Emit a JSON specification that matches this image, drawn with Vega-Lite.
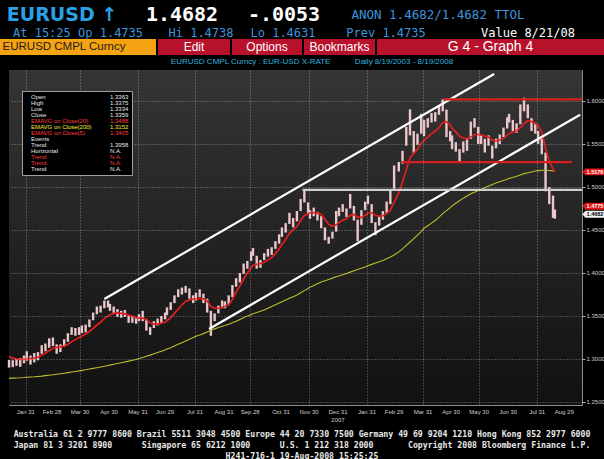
{
"$schema": "https://vega.github.io/schema/vega-lite/v6.json",
"background": "#000000",
"padding": 0,
"spacing": 0,
"config": {"view": {"stroke": null}, "concat": {"spacing": 0}},
"resolve": {"scale": {"color": "independent", "fill": "independent", "stroke": "independent", "strokeWidth": "independent"}, "legend": {"color": "independent"}},
"datasets": {
"px": [
{"d":"2007-01-13","h":1.2990,"l":1.2900,"e20":1.3030,"e200":1.2775},
{"d":"2007-01-17","h":1.2985,"l":1.2905,"e20":1.3010,"e200":1.2777},
{"d":"2007-01-21","h":1.3000,"l":1.2920,"e20":1.3000,"e200":1.2779},
{"d":"2007-01-25","h":1.3010,"l":1.2910,"e20":1.2995,"e200":1.2781},
{"d":"2007-01-29","h":1.3040,"l":1.2950,"e20":1.2995,"e200":1.2784},
{"d":"2007-02-01","h":1.3090,"l":1.2980,"e20":1.3000,"e200":1.2787},
{"d":"2007-02-05","h":1.3040,"l":1.2935,"e20":1.3005,"e200":1.2790},
{"d":"2007-02-09","h":1.3070,"l":1.2960,"e20":1.3010,"e200":1.2793},
{"d":"2007-02-13","h":1.3080,"l":1.2985,"e20":1.3020,"e200":1.2797},
{"d":"2007-02-17","h":1.3160,"l":1.3060,"e20":1.3045,"e200":1.2801},
{"d":"2007-02-21","h":1.3180,"l":1.3090,"e20":1.3070,"e200":1.2806},
{"d":"2007-02-25","h":1.3240,"l":1.3130,"e20":1.3095,"e200":1.2811},
{"d":"2007-03-01","h":1.3250,"l":1.3150,"e20":1.3125,"e200":1.2816},
{"d":"2007-03-05","h":1.3170,"l":1.3060,"e20":1.3135,"e200":1.2822},
{"d":"2007-03-09","h":1.3170,"l":1.3080,"e20":1.3140,"e200":1.2828},
{"d":"2007-03-13","h":1.3230,"l":1.3140,"e20":1.3150,"e200":1.2834},
{"d":"2007-03-17","h":1.3300,"l":1.3200,"e20":1.3170,"e200":1.2841},
{"d":"2007-03-21","h":1.3370,"l":1.3280,"e20":1.3200,"e200":1.2848},
{"d":"2007-03-25","h":1.3360,"l":1.3270,"e20":1.3225,"e200":1.2855},
{"d":"2007-03-29","h":1.3370,"l":1.3280,"e20":1.3250,"e200":1.2862},
{"d":"2007-04-01","h":1.3390,"l":1.3300,"e20":1.3265,"e200":1.2868},
{"d":"2007-04-05","h":1.3400,"l":1.3310,"e20":1.3290,"e200":1.2875},
{"d":"2007-04-09","h":1.3460,"l":1.3370,"e20":1.3320,"e200":1.2883},
{"d":"2007-04-13","h":1.3540,"l":1.3450,"e20":1.3355,"e200":1.2891},
{"d":"2007-04-17","h":1.3610,"l":1.3520,"e20":1.3395,"e200":1.2899},
{"d":"2007-04-21","h":1.3620,"l":1.3540,"e20":1.3430,"e200":1.2907},
{"d":"2007-04-25","h":1.3680,"l":1.3590,"e20":1.3470,"e200":1.2915},
{"d":"2007-04-29","h":1.3680,"l":1.3600,"e20":1.3500,"e200":1.2924},
{"d":"2007-05-01","h":1.3640,"l":1.3560,"e20":1.3515,"e200":1.2929},
{"d":"2007-05-05","h":1.3610,"l":1.3530,"e20":1.3530,"e200":1.2938},
{"d":"2007-05-09","h":1.3580,"l":1.3490,"e20":1.3535,"e200":1.2947},
{"d":"2007-05-13","h":1.3560,"l":1.3480,"e20":1.3530,"e200":1.2956},
{"d":"2007-05-17","h":1.3570,"l":1.3490,"e20":1.3525,"e200":1.2965},
{"d":"2007-05-21","h":1.3500,"l":1.3420,"e20":1.3510,"e200":1.2975},
{"d":"2007-05-25","h":1.3500,"l":1.3420,"e20":1.3495,"e200":1.2985},
{"d":"2007-05-29","h":1.3480,"l":1.3410,"e20":1.3480,"e200":1.2995},
{"d":"2007-06-01","h":1.3520,"l":1.3440,"e20":1.3475,"e200":1.3005},
{"d":"2007-06-05","h":1.3560,"l":1.3440,"e20":1.3475,"e200":1.3018},
{"d":"2007-06-09","h":1.3460,"l":1.3330,"e20":1.3460,"e200":1.3032},
{"d":"2007-06-13","h":1.3370,"l":1.3280,"e20":1.3420,"e200":1.3045},
{"d":"2007-06-17","h":1.3440,"l":1.3360,"e20":1.3405,"e200":1.3060},
{"d":"2007-06-21","h":1.3470,"l":1.3390,"e20":1.3405,"e200":1.3075},
{"d":"2007-06-25","h":1.3500,"l":1.3420,"e20":1.3415,"e200":1.3090},
{"d":"2007-06-29","h":1.3540,"l":1.3460,"e20":1.3430,"e200":1.3105},
{"d":"2007-07-01","h":1.3600,"l":1.3510,"e20":1.3445,"e200":1.3115},
{"d":"2007-07-05","h":1.3660,"l":1.3570,"e20":1.3480,"e200":1.3130},
{"d":"2007-07-09","h":1.3740,"l":1.3650,"e20":1.3530,"e200":1.3150},
{"d":"2007-07-13","h":1.3810,"l":1.3720,"e20":1.3580,"e200":1.3170},
{"d":"2007-07-17","h":1.3830,"l":1.3750,"e20":1.3630,"e200":1.3190},
{"d":"2007-07-21","h":1.3850,"l":1.3770,"e20":1.3670,"e200":1.3210},
{"d":"2007-07-25","h":1.3820,"l":1.3700,"e20":1.3690,"e200":1.3230},
{"d":"2007-07-29","h":1.3740,"l":1.3650,"e20":1.3695,"e200":1.3250},
{"d":"2007-08-01","h":1.3770,"l":1.3680,"e20":1.3700,"e200":1.3265},
{"d":"2007-08-05","h":1.3810,"l":1.3720,"e20":1.3705,"e200":1.3280},
{"d":"2007-08-09","h":1.3760,"l":1.3650,"e20":1.3700,"e200":1.3295},
{"d":"2007-08-13","h":1.3700,"l":1.3540,"e20":1.3675,"e200":1.3315},
{"d":"2007-08-17","h":1.3560,"l":1.3270,"e20":1.3610,"e200":1.3335},
{"d":"2007-08-21","h":1.3530,"l":1.3440,"e20":1.3590,"e200":1.3350},
{"d":"2007-08-25","h":1.3620,"l":1.3530,"e20":1.3590,"e200":1.3365},
{"d":"2007-08-29","h":1.3680,"l":1.3590,"e20":1.3600,"e200":1.3380},
{"d":"2007-09-01","h":1.3670,"l":1.3590,"e20":1.3610,"e200":1.3390},
{"d":"2007-09-05","h":1.3740,"l":1.3630,"e20":1.3630,"e200":1.3405},
{"d":"2007-09-09","h":1.3860,"l":1.3720,"e20":1.3690,"e200":1.3420},
{"d":"2007-09-13","h":1.3940,"l":1.3840,"e20":1.3780,"e200":1.3440},
{"d":"2007-09-17","h":1.4000,"l":1.3890,"e20":1.3850,"e200":1.3460},
{"d":"2007-09-21","h":1.4110,"l":1.3990,"e20":1.3930,"e200":1.3480},
{"d":"2007-09-25","h":1.4140,"l":1.4050,"e20":1.4000,"e200":1.3500},
{"d":"2007-09-29","h":1.4250,"l":1.4140,"e20":1.4060,"e200":1.3515},
{"d":"2007-10-01","h":1.4290,"l":1.4200,"e20":1.4090,"e200":1.3525},
{"d":"2007-10-05","h":1.4200,"l":1.4050,"e20":1.4100,"e200":1.3540},
{"d":"2007-10-09","h":1.4150,"l":1.4060,"e20":1.4110,"e200":1.3555},
{"d":"2007-10-13","h":1.4230,"l":1.4150,"e20":1.4125,"e200":1.3570},
{"d":"2007-10-17","h":1.4280,"l":1.4190,"e20":1.4150,"e200":1.3590},
{"d":"2007-10-21","h":1.4300,"l":1.4210,"e20":1.4180,"e200":1.3610},
{"d":"2007-10-25","h":1.4370,"l":1.4280,"e20":1.4225,"e200":1.3630},
{"d":"2007-10-29","h":1.4450,"l":1.4340,"e20":1.4280,"e200":1.3650},
{"d":"2007-11-01","h":1.4530,"l":1.4420,"e20":1.4330,"e200":1.3665},
{"d":"2007-11-05","h":1.4580,"l":1.4470,"e20":1.4390,"e200":1.3685},
{"d":"2007-11-09","h":1.4700,"l":1.4570,"e20":1.4460,"e200":1.3705},
{"d":"2007-11-13","h":1.4640,"l":1.4530,"e20":1.4500,"e200":1.3725},
{"d":"2007-11-17","h":1.4720,"l":1.4600,"e20":1.4540,"e200":1.3745},
{"d":"2007-11-21","h":1.4860,"l":1.4720,"e20":1.4610,"e200":1.3770},
{"d":"2007-11-25","h":1.4966,"l":1.4820,"e20":1.4670,"e200":1.3795},
{"d":"2007-11-29","h":1.4820,"l":1.4690,"e20":1.4690,"e200":1.3820},
{"d":"2007-12-01","h":1.4730,"l":1.4630,"e20":1.4700,"e200":1.3835},
{"d":"2007-12-05","h":1.4760,"l":1.4660,"e20":1.4700,"e200":1.3855},
{"d":"2007-12-09","h":1.4710,"l":1.4610,"e20":1.4695,"e200":1.3875},
{"d":"2007-12-13","h":1.4660,"l":1.4520,"e20":1.4680,"e200":1.3895},
{"d":"2007-12-17","h":1.4530,"l":1.4380,"e20":1.4625,"e200":1.3910},
{"d":"2007-12-21","h":1.4420,"l":1.4340,"e20":1.4565,"e200":1.3925},
{"d":"2007-12-25","h":1.4480,"l":1.4400,"e20":1.4540,"e200":1.3940},
{"d":"2007-12-29","h":1.4720,"l":1.4480,"e20":1.4560,"e200":1.3955},
{"d":"2008-01-01","h":1.4760,"l":1.4660,"e20":1.4585,"e200":1.3965},
{"d":"2008-01-05","h":1.4800,"l":1.4710,"e20":1.4615,"e200":1.3980},
{"d":"2008-01-09","h":1.4750,"l":1.4650,"e20":1.4630,"e200":1.3995},
{"d":"2008-01-13","h":1.4920,"l":1.4750,"e20":1.4670,"e200":1.4010},
{"d":"2008-01-17","h":1.4780,"l":1.4610,"e20":1.4680,"e200":1.4025},
{"d":"2008-01-21","h":1.4620,"l":1.4370,"e20":1.4650,"e200":1.4040},
{"d":"2008-01-25","h":1.4730,"l":1.4560,"e20":1.4645,"e200":1.4055},
{"d":"2008-01-29","h":1.4830,"l":1.4730,"e20":1.4670,"e200":1.4070},
{"d":"2008-02-01","h":1.4900,"l":1.4800,"e20":1.4700,"e200":1.4085},
{"d":"2008-02-05","h":1.4800,"l":1.4580,"e20":1.4700,"e200":1.4100},
{"d":"2008-02-09","h":1.4590,"l":1.4440,"e20":1.4670,"e200":1.4115},
{"d":"2008-02-13","h":1.4650,"l":1.4550,"e20":1.4660,"e200":1.4130},
{"d":"2008-02-17","h":1.4720,"l":1.4620,"e20":1.4665,"e200":1.4145},
{"d":"2008-02-21","h":1.4830,"l":1.4700,"e20":1.4690,"e200":1.4165},
{"d":"2008-02-25","h":1.4960,"l":1.4800,"e20":1.4730,"e200":1.4185},
{"d":"2008-02-29","h":1.5250,"l":1.4980,"e20":1.4820,"e200":1.4210},
{"d":"2008-03-05","h":1.5290,"l":1.5180,"e20":1.4930,"e200":1.4245},
{"d":"2008-03-09","h":1.5420,"l":1.5270,"e20":1.5060,"e200":1.4280},
{"d":"2008-03-13","h":1.5700,"l":1.5480,"e20":1.5200,"e200":1.4320},
{"d":"2008-03-17","h":1.5903,"l":1.5600,"e20":1.5340,"e200":1.4360},
{"d":"2008-03-21","h":1.5650,"l":1.5396,"e20":1.5390,"e200":1.4400},
{"d":"2008-03-25","h":1.5620,"l":1.5490,"e20":1.5440,"e200":1.4440},
{"d":"2008-03-29","h":1.5850,"l":1.5620,"e20":1.5510,"e200":1.4480},
{"d":"2008-04-01","h":1.5780,"l":1.5590,"e20":1.5540,"e200":1.4520},
{"d":"2008-04-05","h":1.5800,"l":1.5690,"e20":1.5580,"e200":1.4550},
{"d":"2008-04-09","h":1.5860,"l":1.5750,"e20":1.5620,"e200":1.4580},
{"d":"2008-04-13","h":1.5870,"l":1.5760,"e20":1.5650,"e200":1.4610},
{"d":"2008-04-17","h":1.5950,"l":1.5840,"e20":1.5690,"e200":1.4650},
{"d":"2008-04-21","h":1.6019,"l":1.5880,"e20":1.5750,"e200":1.4690},
{"d":"2008-04-25","h":1.5900,"l":1.5580,"e20":1.5760,"e200":1.4725},
{"d":"2008-04-29","h":1.5650,"l":1.5530,"e20":1.5720,"e200":1.4760},
{"d":"2008-05-01","h":1.5600,"l":1.5440,"e20":1.5680,"e200":1.4780},
{"d":"2008-05-05","h":1.5520,"l":1.5410,"e20":1.5640,"e200":1.4810},
{"d":"2008-05-09","h":1.5440,"l":1.5290,"e20":1.5590,"e200":1.4840},
{"d":"2008-05-13","h":1.5530,"l":1.5400,"e20":1.5570,"e200":1.4870},
{"d":"2008-05-17","h":1.5560,"l":1.5420,"e20":1.5560,"e200":1.4895},
{"d":"2008-05-21","h":1.5760,"l":1.5560,"e20":1.5580,"e200":1.4920},
{"d":"2008-05-25","h":1.5800,"l":1.5690,"e20":1.5610,"e200":1.4940},
{"d":"2008-05-29","h":1.5700,"l":1.5500,"e20":1.5610,"e200":1.4960},
{"d":"2008-06-01","h":1.5600,"l":1.5500,"e20":1.5605,"e200":1.4970},
{"d":"2008-06-05","h":1.5560,"l":1.5400,"e20":1.5590,"e200":1.4990},
{"d":"2008-06-09","h":1.5600,"l":1.5480,"e20":1.5580,"e200":1.5010},
{"d":"2008-06-13","h":1.5480,"l":1.5330,"e20":1.5545,"e200":1.5030},
{"d":"2008-06-17","h":1.5560,"l":1.5450,"e20":1.5535,"e200":1.5045},
{"d":"2008-06-21","h":1.5610,"l":1.5500,"e20":1.5545,"e200":1.5060},
{"d":"2008-06-25","h":1.5690,"l":1.5580,"e20":1.5565,"e200":1.5075},
{"d":"2008-06-29","h":1.5810,"l":1.5680,"e20":1.5600,"e200":1.5090},
{"d":"2008-07-01","h":1.5850,"l":1.5750,"e20":1.5620,"e200":1.5100},
{"d":"2008-07-05","h":1.5780,"l":1.5650,"e20":1.5640,"e200":1.5110},
{"d":"2008-07-09","h":1.5740,"l":1.5630,"e20":1.5650,"e200":1.5125},
{"d":"2008-07-13","h":1.5960,"l":1.5730,"e20":1.5690,"e200":1.5140},
{"d":"2008-07-17","h":1.6038,"l":1.5880,"e20":1.5740,"e200":1.5155},
{"d":"2008-07-21","h":1.5960,"l":1.5800,"e20":1.5770,"e200":1.5165},
{"d":"2008-07-25","h":1.5800,"l":1.5650,"e20":1.5760,"e200":1.5175},
{"d":"2008-07-29","h":1.5740,"l":1.5620,"e20":1.5740,"e200":1.5185},
{"d":"2008-08-01","h":1.5650,"l":1.5500,"e20":1.5710,"e200":1.5190},
{"d":"2008-08-05","h":1.5560,"l":1.5380,"e20":1.5640,"e200":1.5195},
{"d":"2008-08-09","h":1.5400,"l":1.4950,"e20":1.5450,"e200":1.5195},
{"d":"2008-08-13","h":1.5000,"l":1.4800,"e20":1.5300,"e200":1.5192},
{"d":"2008-08-17","h":1.4900,"l":1.4640,"e20":1.5210,"e200":1.5187},
{"d":"2008-08-19","h":1.4738,"l":1.4631,"e20":1.5178,"e200":1.5185}
],
"lines": [
{"g":"t1","d":"2007-04-25","v":1.3698},{"g":"t1","d":"2008-06-15","v":1.6314},
{"g":"t2","d":"2007-08-15","v":1.3349},{"g":"t2","d":"2008-09-15","v":1.5840},
{"g":"h0","d":"2007-11-23","v":1.4966},{"g":"h0","d":"2008-09-17","v":1.4966},
{"g":"r1","d":"2008-04-22","v":1.6019},{"g":"r1","d":"2008-09-17","v":1.6019},
{"g":"r2","d":"2008-03-08","v":1.5290},{"g":"r2","d":"2008-09-06","v":1.5290}
],
"months": [
{"d":"2007-01-31","t":"Jan 31"},{"d":"2007-02-28","t":"Feb 28"},{"d":"2007-03-30","t":"Mar 30"},{"d":"2007-04-30","t":"Apr 30"},
{"d":"2007-05-31","t":"May 31"},{"d":"2007-06-29","t":"Jun 29"},{"d":"2007-07-31","t":"Jul 31"},{"d":"2007-08-31","t":"Aug 31"},
{"d":"2007-09-28","t":"Sep 28"},{"d":"2007-10-31","t":"Oct 31"},{"d":"2007-11-30","t":"Nov 30"},{"d":"2007-12-31","t":"Dec 31"},
{"d":"2008-01-31","t":"Jan 31"},{"d":"2008-02-29","t":"Feb 29"},{"d":"2008-03-31","t":"Mar 31"},{"d":"2008-04-30","t":"Apr 30"},
{"d":"2008-05-30","t":"May 30"},{"d":"2008-06-30","t":"Jun 30"},{"d":"2008-07-31","t":"Jul 31"},{"d":"2008-08-29","t":"Aug 29"}
],
"leg": [
{"k":"Open"},{"k":"High"},{"k":"Low"},{"k":"Close"},{"k":"EMAVG on Close(20)"},{"k":"EMAVG on Close(200)"},{"k":"EMAVG on Close(5)"},
{"k":"Events"},{"k":"Trend"},{"k":"Horizontal"},{"k":"Trend "},{"k":"Trend  "},{"k":"Trend   "},
{"k":"1.3363"},{"k":"1.3375"},{"k":"1.3334"},{"k":"1.3359"},{"k":"1.3488"},{"k":"1.3152"},{"k":"1.3405"},
{"k":" "},{"k":"1.3958"},{"k":"N.A."},{"k":"N.A. "},{"k":"N.A.  "},{"k":"N.A.   "}
],
"tags": [
{"k":"a","v":1.5176,"t":"1.5176"},
{"k":"b","v":1.4775,"t":"1.4775"},
{"k":"c","v":1.4682,"t":"1.4682"}
]
},
"vconcat": [
{"spacing": 0, "hconcat": [
 {"width": 124, "height": 26, "data": {"values": [{"t": "EURUSD ↑"}]}, "mark": {"type": "text", "font": "DejaVu Sans", "fontWeight": "bold", "fontSize": 19, "color": "#2aa1e6", "dy": 2}, "encoding": {"text": {"field": "t"}}},
 {"width": 116, "height": 26, "data": {"values": [{"t": "1.4682"}]}, "mark": {"type": "text", "font": "DejaVu Sans Mono", "fontWeight": "bold", "fontSize": 20, "color": "#ffffff", "dy": 2}, "encoding": {"text": {"field": "t"}}},
 {"width": 88, "height": 26, "data": {"values": [{"t": "-.0053"}]}, "mark": {"type": "text", "font": "DejaVu Sans Mono", "fontWeight": "bold", "fontSize": 20, "color": "#ffffff", "dy": 2}, "encoding": {"text": {"field": "t"}}},
 {"width": 220, "height": 26, "data": {"values": [{"t": "ANON 1.4682/1.4682 TTOL"}]}, "mark": {"type": "text", "font": "DejaVu Sans Mono", "fontSize": 12.5, "color": "#3d94dc", "dy": 2}, "encoding": {"text": {"field": "t"}}}
]},
{"spacing": 0, "hconcat": [
 {"width": 156, "height": 13, "data": {"values": [{"t": "At 15:25 Op 1.4735"}]}, "mark": {"type": "text", "font": "DejaVu Sans Mono", "fontSize": 12, "color": "#3d94dc"}, "encoding": {"text": {"field": "t"}}},
 {"width": 90, "height": 13, "data": {"values": [{"t": "Hi 1.4738"}]}, "mark": {"type": "text", "font": "DejaVu Sans Mono", "fontSize": 12, "color": "#3d94dc"}, "encoding": {"text": {"field": "t"}}},
 {"width": 74, "height": 13, "data": {"values": [{"t": "Lo 1.4631"}]}, "mark": {"type": "text", "font": "DejaVu Sans Mono", "fontSize": 12, "color": "#3d94dc"}, "encoding": {"text": {"field": "t"}}},
 {"width": 132, "height": 13, "data": {"values": [{"t": "Prev 1.4735"}]}, "mark": {"type": "text", "font": "DejaVu Sans Mono", "fontSize": 12, "color": "#3d94dc"}, "encoding": {"text": {"field": "t"}}},
 {"width": 152, "height": 13, "data": {"values": [{"t": "Value 8/21/08"}]}, "mark": {"type": "text", "font": "DejaVu Sans Mono", "fontSize": 12, "color": "#ffffff"}, "encoding": {"text": {"field": "t"}}}
]},
{"spacing": 2, "hconcat": [
 {"width": 156, "height": 16, "view": {"fill": "#f5a312"}, "data": {"values": [{"t": "EURUSD CMPL Curncy"}]}, "mark": {"type": "text", "font": "Liberation Sans", "fontSize": 11.5, "color": "#1a1a1a", "dx": -14}, "encoding": {"text": {"field": "t"}}},
 {"width": 72, "height": 16, "view": {"fill": "#b8112c"}, "data": {"values": [{"t": "Edit"}]}, "mark": {"type": "text", "font": "Liberation Sans", "fontSize": 12, "color": "#ffffff"}, "encoding": {"text": {"field": "t"}}},
 {"width": 70, "height": 16, "view": {"fill": "#b8112c"}, "data": {"values": [{"t": "Options"}]}, "mark": {"type": "text", "font": "Liberation Sans", "fontSize": 12, "color": "#ffffff"}, "encoding": {"text": {"field": "t"}}},
 {"width": 71, "height": 16, "view": {"fill": "#b8112c"}, "data": {"values": [{"t": "Bookmarks"}]}, "mark": {"type": "text", "font": "Liberation Sans", "fontSize": 12, "color": "#ffffff"}, "encoding": {"text": {"field": "t"}}},
 {"width": 227, "height": 16, "view": {"fill": "#b8112c"}, "data": {"values": [{"t": "G 4 - Graph 4"}]}, "mark": {"type": "text", "font": "Liberation Sans", "fontSize": 14, "color": "#ffffff"}, "encoding": {"text": {"field": "t"}}}
]},
{"width": 604, "height": 14, "data": {"values": [{"t": "EURUSD CMPL Curncy : EUR-USD X-RATE\u00a0\u00a0\u00a0\u00a0\u00a0\u00a0\u00a0\u00a0\u00a0\u00a0\u00a0Daily 8/19/2003 - 8/19/2008"}]}, "mark": {"type": "text", "font": "Liberation Sans", "fontSize": 8, "color": "#35b3dc", "dx": 10}, "encoding": {"text": {"field": "t"}}},
{"spacing": 0,
 "resolve": {"scale": {"color": "independent", "fill": "independent", "stroke": "independent", "strokeWidth": "independent"}, "legend": {"color": "independent"}},
 "hconcat": [
 {"width": 5, "height": 10, "data": {"values": [{}]}, "mark": {"type": "point", "opacity": 0, "size": 1}},
 {"width": 573, "height": 335, "view": {"stroke": "#8c8c8c"},
  "layer": [
   {"data": {"values": [{}]}, "mark": {"type": "rect", "color": {"gradient": "linear", "x1": 0, "y1": 0, "x2": 0, "y2": 1, "stops": [{"offset": 0, "color": "#353535"}, {"offset": 1, "color": "#111111"}]}}, "encoding": {}},
   {"data": {"name": "px"}, "mark": {"type": "rule", "color": "#ebc6ca", "strokeWidth": 2.4},
    "encoding": {
     "x": {"field": "d", "type": "temporal", "title": null,
       "scale": {"domain": [{"year": 2007, "month": 1, "date": 13}, {"year": 2008, "month": 9, "date": 17}]},
       "axis": {"values": [
         {"year":2007,"month":1,"date":31},{"year":2007,"month":2,"date":28},{"year":2007,"month":3,"date":30},{"year":2007,"month":4,"date":30},
         {"year":2007,"month":5,"date":31},{"year":2007,"month":6,"date":29},{"year":2007,"month":7,"date":31},{"year":2007,"month":8,"date":31},
         {"year":2007,"month":9,"date":28},{"year":2007,"month":10,"date":31},{"year":2007,"month":11,"date":30},{"year":2007,"month":12,"date":31},
         {"year":2008,"month":1,"date":31},{"year":2008,"month":2,"date":29},{"year":2008,"month":3,"date":31},{"year":2008,"month":4,"date":30},
         {"year":2008,"month":5,"date":30},{"year":2008,"month":6,"date":30},{"year":2008,"month":7,"date":31},{"year":2008,"month":8,"date":29}],
        "labels": false, "ticks": false, "domain": false, "grid": true, "gridColor": "#d8d8d8", "gridDash": [1, 2], "gridOpacity": 0.5, "zindex": 1}},
     "y": {"field": "l", "type": "quantitative", "title": null,
       "scale": {"domain": [1.2465, 1.636], "nice": false, "zero": false},
       "axis": {"orient": "right", "values": [1.25, 1.3, 1.35, 1.4, 1.45, 1.5, 1.55, 1.6], "format": ".4f",
        "labelColor": "#cfcfcf", "labelFont": "Liberation Sans", "labelFontSize": 6, "labelPadding": 1, "tickSize": 3, "tickColor": "#aaaaaa",
        "domain": false, "grid": true, "gridColor": "#d8d8d8", "gridDash": [1, 2], "gridOpacity": 0.5, "zindex": 1}},
     "y2": {"field": "h"}}},
   {"data": {"name": "px"}, "mark": {"type": "line", "color": "#bcbc2c", "strokeWidth": 1.1},
    "encoding": {"x": {"field": "d", "type": "temporal", "title": null}, "y": {"field": "e200", "type": "quantitative", "title": null}}},
   {"data": {"name": "px"}, "mark": {"type": "line", "color": "#e41e1e", "strokeWidth": 1.7},
    "encoding": {"x": {"field": "d", "type": "temporal", "title": null}, "y": {"field": "e20", "type": "quantitative", "title": null}}},
   {"data": {"name": "lines"}, "mark": {"type": "line", "clip": true},
    "encoding": {"x": {"field": "d", "type": "temporal", "title": null}, "y": {"field": "v", "type": "quantitative", "title": null},
     "stroke": {"field": "g", "type": "nominal", "scale": {"domain": ["t1", "t2", "h0", "r1", "r2"], "range": ["#ffffff", "#ffffff", "#cfcfcf", "#d81e1e", "#d81e1e"]}, "legend": null},
     "strokeWidth": {"field": "g", "type": "ordinal", "scale": {"domain": ["t1", "t2", "h0", "r1", "r2"], "range": [2.2, 2.2, 1, 1.6, 1.6]}, "legend": null}}},
   {"data": {"name": "months"}, "mark": {"type": "text", "dy": 7, "font": "Liberation Sans", "fontSize": 6, "color": "#cfcfcf"},
    "encoding": {"x": {"field": "d", "type": "temporal", "title": null}, "y": {"value": "height"}, "text": {"field": "t"}}},
   {"data": {"values": [{"d": "2007-12-31", "t": "2007"}]}, "mark": {"type": "text", "dy": 15, "font": "Liberation Sans", "fontSize": 6, "color": "#cfcfcf"},
    "encoding": {"x": {"field": "d", "type": "temporal", "title": null}, "y": {"value": "height"}, "text": {"field": "t"}}},
   {"data": {"name": "leg"}, "mark": {"type": "point", "opacity": 0},
    "encoding": {"color": {"field": "k", "type": "nominal",
      "scale": {"domain": ["Open","High","Low","Close","EMAVG on Close(20)","EMAVG on Close(200)","EMAVG on Close(5)","Events","Trend","Horizontal","Trend ","Trend  ","Trend   ","1.3363","1.3375","1.3334","1.3359","1.3488","1.3152","1.3405"," ","1.3958","N.A.","N.A. ","N.A.  ","N.A.   "], "range": ["#000000"]},
      "legend": {"title": null, "orient": "none", "legendX": 13, "legendY": 21, "columns": 2, "columnPadding": 12, "rowPadding": 0,
        "symbolSize": 0, "symbolOpacity": 0, "symbolStrokeWidth": 0, "labelOffset": 0,
        "labelFont": "Liberation Sans", "labelFontSize": 6, "padding": 3, "fillColor": "#000000", "strokeColor": "#a0a0a0", "zindex": 2,
        "labelColor": {"expr": "indexof(['EMAVG on Close(20)','1.3488','EMAVG on Close(5)','1.3405','Trend ','N.A. ','Trend  ','N.A.  '], datum.value) >= 0 ? '#ff3a3a' : indexof(['EMAVG on Close(200)','1.3152'], datum.value) >= 0 ? '#f2f230' : '#e8e8e8'"}}}}},
   {"data": {"name": "tags"}, "mark": {"type": "point", "shape": "M-1,0L-0.75,-0.3L1,-0.3L1,0.3L-0.75,0.3Z", "size": 529, "filled": true, "opacity": 1, "xOffset": 12},
    "encoding": {"x": {"value": "width"}, "y": {"field": "v", "type": "quantitative", "title": null},
     "fill": {"field": "k", "type": "nominal", "scale": {"domain": ["a", "b", "c"], "range": ["#e01818", "#e01818", "#f4f4f4"]}, "legend": null}}},
   {"data": {"name": "tags"}, "mark": {"type": "text", "dx": 13, "fontSize": 5.5, "font": "Liberation Sans", "fontWeight": "bold"},
    "encoding": {"x": {"value": "width"}, "y": {"field": "v", "type": "quantitative", "title": null}, "text": {"field": "t"},
     "color": {"condition": {"test": "datum.k == 'c'", "value": "#000000"}, "value": "#ffffff"}}}
  ]}
]},
{"width": 604, "height": 5, "data": {"values": [{}]}, "mark": {"type": "point", "opacity": 0, "size": 1}},
{"width": 604, "height": 11, "data": {"values": [{"t": "Australia 61 2 9777 8600 Brazil 5511 3048 4500 Europe 44 20 7330 7500 Germany 49 69 9204 1210 Hong Kong 852 2977 6000"}]}, "mark": {"type": "text", "font": "DejaVu Sans Mono", "fontSize": 8.2, "fontWeight": "bold", "color": "#e8e8e8"}, "encoding": {"text": {"field": "t"}}},
{"width": 604, "height": 11, "data": {"values": [{"t": "Japan 81 3 3201 8900\u00a0\u00a0\u00a0\u00a0\u00a0\u00a0Singapore 65 6212 1000\u00a0\u00a0\u00a0\u00a0\u00a0\u00a0U.S. 1 212 318 2000\u00a0\u00a0\u00a0\u00a0\u00a0\u00a0\u00a0Copyright 2008 Bloomberg Finance L.P."}]}, "mark": {"type": "text", "font": "DejaVu Sans Mono", "fontSize": 8.2, "fontWeight": "bold", "color": "#e8e8e8"}, "encoding": {"text": {"field": "t"}}},
{"width": 604, "height": 11, "data": {"values": [{"t": "\u00a0\u00a0\u00a0\u00a0\u00a0\u00a0\u00a0\u00a0\u00a0\u00a0\u00a0\u00a0\u00a0\u00a0\u00a0\u00a0\u00a0\u00a0\u00a0\u00a0\u00a0\u00a0\u00a0\u00a0\u00a0\u00a0\u00a0\u00a0\u00a0\u00a0\u00a0\u00a0\u00a0\u00a0\u00a0\u00a0\u00a0\u00a0\u00a0\u00a0\u00a0\u00a0\u00a0\u00a0\u00a0\u00a0\u00a0\u00a0\u00a0\u00a0\u00a0\u00a0\u00a0\u00a0\u00a0\u00a0\u00a0\u00a0\u00a0\u00a0\u00a0\u00a0\u00a0\u00a0\u00a0\u00a0\u00a0\u00a0\u00a0\u00a0\u00a0\u00a0\u00a0\u00a0\u00a0\u00a0\u00a0\u00a0\u00a0\u00a0\u00a0\u00a0\u00a0\u00a0\u00a0\u00a0H241-716-1 19-Aug-2008 15:25:25"}]}, "mark": {"type": "text", "font": "DejaVu Sans Mono", "fontSize": 8.2, "fontWeight": "bold", "color": "#e8e8e8"}, "encoding": {"text": {"field": "t"}}}
]
}
